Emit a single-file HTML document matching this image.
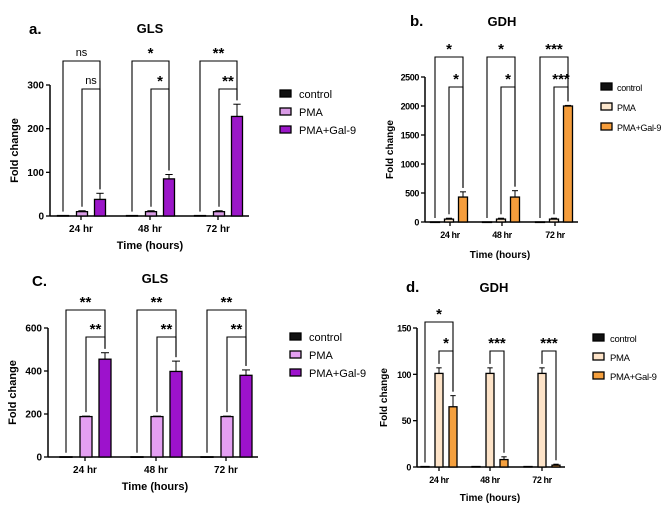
<!DOCTYPE html>
<html><head><meta charset="utf-8"><style>
html,body{margin:0;padding:0;background:#fff;}
svg{display:block;font-family:"Liberation Sans",Arial,sans-serif;}
</style></head><body>
<svg id="fig" width="669" height="513" viewBox="0 0 669 513"></svg>
<script>
const groups = ["24 hr","48 hr","72 hr"];
const legendLabels = ["control","PMA","PMA+Gal-9"];
// panel a GLS
const aControl=[1,1,1], aPMA=[10,10,10], aGal=[38,85,228], aGalErr=[14,10,28], aPMAErr=[2,2,2];
const aTicks=[0,100,200,300];
const aOuterSig=["ns","*","**"], aInnerSig=["ns","*","**"];
// panel b GDH
const bControl=[1,1,1], bPMA=[50,50,50], bGal=[430,430,2000], bGalErr=[90,110,10], bPMAErr=[15,15,15];
const bTicks=[0,500,1000,1500,2000,2500];
const bOuterSig=["*","*","***"], bInnerSig=["*","*","***"];
// panel c GLS
const cControl=[1,1,1], cPMA=[188,188,188], cGal=[455,398,380], cGalErr=[30,48,25], cPMAErr=[2,2,2];
const cTicks=[0,200,400,600];
const cOuterSig=["**","**","**"], cInnerSig=["**","**","**"];
// panel d GDH
const dControl=[0.5,0.5,0.5], dPMA=[101,101,101], dGal=[65,8,2], dGalErr=[12,3,1], dPMAErr=[6,6,6];
const dTicks=[0,50,100,150];
const dOuterSig=["*","",""], dInnerSig=["*","***","***"];

const NS="http://www.w3.org/2000/svg";
const svg=document.getElementById('fig');
function mk(tag,attrs,parent,text){const e=document.createElementNS(NS,tag);for(const k in attrs)e.setAttribute(k,attrs[k]);if(text!==undefined)e.textContent=text;(parent||svg).appendChild(e);return e;}

function panel(p){
  const g=mk('g',{});
  
  
  const y=v=>p.y0-(v/p.ymax)*(p.y0-p.ytop);
  const ls=p.narrow?'0':'0';
  const t=mk('text',{x:p.titleX,y:p.titleY,'text-anchor':'middle','font-size':13,'font-weight':'bold'},g,p.title);
  
  
  const l=mk('text',{x:p.letterX,y:p.letterY,'font-size':15,'font-weight':'bold'},g,p.letter);
  
  
  const ya=mk('line',{x1:p.ax,y1:p.ytop,x2:p.ax,y2:p.y0,stroke:'#000','stroke-width':1.5},g);
  
  
  const xa=mk('line',{x1:p.ax,y1:p.y0,x2:p.axEnd,y2:p.y0,stroke:'#000','stroke-width':1.5},g);
  
  
  p.ticks.forEach(tv=>{
    mk('line',{x1:p.ax-4,y1:y(tv),x2:p.ax,y2:y(tv),stroke:'#000','stroke-width':1.3},g);
    const tl=mk('text',{x:p.ax-6,y:y(tv)+3.5,'text-anchor':'end','font-size':p.fs,'font-weight':'bold','letter-spacing':p.narrow?'-0.4':'0'},g,String(tv));
    
    
  });
  const yt=mk('text',{x:0,y:0,'text-anchor':'middle','font-size':p.fs+1,'font-weight':'bold',transform:`translate(${p.ax-p.ylabOff},${(p.y0+p.ytop)/2}) rotate(-90)`},g,'Fold change');
  
  
  const xt=mk('text',{x:p.xtitleX,y:p.xtitleY,'text-anchor':'middle','font-size':p.fs+1,'font-weight':'bold'},g,'Time (hours)');
  
  
  const series=[p.control,p.pma,p.gal];
  const errs=[null,p.pmaErr,p.galErr];
  const cols=['#111',p.c1,p.c2];
  groups.forEach((gname,i)=>{
    const c=p.centers[i];
    mk('line',{x1:c,y1:p.y0,x2:c,y2:p.y0+4,stroke:'#000','stroke-width':1.3},g);
    const gl=mk('text',{x:c,y:p.y0+16,'text-anchor':'middle','font-size':p.fs,'font-weight':'bold','letter-spacing':p.narrow?'-0.4':'0'},g,gname);
    
    
    const xs=p.offs.map(o=>c+o);
    const tops=[];
    series.forEach((s,k)=>{
      const v=s[i], top=y(v), x=xs[k]-p.bw/2;
      const b=mk('rect',{x:x,y:top,width:p.bw,height:Math.max(p.y0-top,0.5),fill:cols[k],stroke:'#000','stroke-width':1.3},g);
      
      
      let et=top;
      if(errs[k]){const e=errs[k][i];et=y(v+e);
        mk('line',{x1:xs[k],y1:top,x2:xs[k],y2:et,stroke:'#000','stroke-width':1},g);
        mk('line',{x1:xs[k]-p.bw/3,y1:et,x2:xs[k]+p.bw/3,y2:et,stroke:'#000','stroke-width':1},g);}
      tops.push(et);
    });
    const drawBr=(x1,x2,ty,lab,b1,b2)=>{
      const br=mk('path',{d:`M${x1},${b1} L${x1},${ty} L${x2},${ty} L${x2},${b2}`,fill:'none',stroke:'#000','stroke-width':1.1},g);
      
      
      const st=lab==='ns';
      const s=mk('text',{x:(x1+x2)/2,y:ty-(st?5:3),'text-anchor':'middle','font-size':st?11:15,'font-weight':st?'normal':'bold'},g,lab);
      
      
    };
    if(p.outer[i]) drawBr(xs[0],xs[2],p.outerY,p.outer[i],tops[0]-4,tops[2]-4);
    if(p.inner[i]) drawBr(xs[1],xs[2],p.innerY,p.inner[i],tops[1]-4,tops[2]-4);
  });
  legendLabels.forEach((lab,k)=>{
    const ly=p.legY+k*p.legGap;
    const r=mk('rect',{x:p.legX,y:ly-4,width:11,height:7,fill:cols[k],stroke:'#000','stroke-width':1.3},g);
    
    
    const tx=mk('text',{x:p.legX+p.legTx,y:ly+4,'font-size':p.legFs,'letter-spacing':p.narrow?'-0.3':'0'},g,lab);
    
    
  });
}

panel({name:'panel-a-gls',title:'GLS',titleX:150,titleY:33,letter:'a.',letterX:29,letterY:34,
  ax:50,axEnd:249,y0:216,ytop:85,ymax:300,ticks:aTicks,fs:10,ylabOff:32,xtitleX:150,xtitleY:249,
  centers:[81,150,218],offs:[-18,1,19],bw:11,control:aControl,pma:aPMA,gal:aGal,pmaErr:aPMAErr,galErr:aGalErr,
  c1:'#d99be6',c2:'#9b17c8',outer:aOuterSig,inner:aInnerSig,outerY:61,innerY:89,legX:280,legY:94,legGap:18,legFs:11,legTx:19});
panel({name:'panel-b-gdh',title:'GDH',titleX:502,titleY:26,letter:'b.',letterX:410,letterY:26,narrow:true,
  ax:425,axEnd:578,y0:222,ytop:77,ymax:2500,ticks:bTicks,fs:9,ylabOff:32,xtitleX:500,xtitleY:258,
  centers:[450,502,555],offs:[-15,-1,13],bw:9,control:bControl,pma:bPMA,gal:bGal,pmaErr:bPMAErr,galErr:bGalErr,
  c1:'#fbe6cc',c2:'#f59d3c',outer:bOuterSig,inner:bInnerSig,outerY:57,innerY:87,legX:601,legY:87,legGap:20,legFs:9,legTx:16});
panel({name:'panel-c-gls',title:'GLS',titleX:155,titleY:283,letter:'C.',letterX:32,letterY:286,
  ax:48,axEnd:258,y0:457,ytop:328,ymax:600,ticks:cTicks,fs:10,ylabOff:32,xtitleX:155,xtitleY:490,
  centers:[85,156,226],offs:[-19,1,20],bw:12,control:cControl,pma:cPMA,gal:cGal,pmaErr:cPMAErr,galErr:cGalErr,
  c1:'#e49ff2',c2:'#9d12cc',outer:cOuterSig,inner:cInnerSig,outerY:310,innerY:337,legX:290,legY:337,legGap:18,legFs:11,legTx:19});
panel({name:'panel-d-gdh',title:'GDH',titleX:494,titleY:292,letter:'d.',letterX:406,letterY:292,narrow:true,
  ax:417,axEnd:565,y0:467,ytop:328,ymax:150,ticks:dTicks,fs:9,ylabOff:30,xtitleX:490,xtitleY:501,
  centers:[439,490,542],offs:[-14,0,14],bw:8,control:dControl,pma:dPMA,gal:dGal,pmaErr:dPMAErr,galErr:dGalErr,
  c1:'#fde3c8',c2:'#f5a03e',outer:dOuterSig,inner:dInnerSig,outerY:322,innerY:351,legX:593,legY:338,legGap:19,legFs:9.5,legTx:17});
</script>
</body></html>
